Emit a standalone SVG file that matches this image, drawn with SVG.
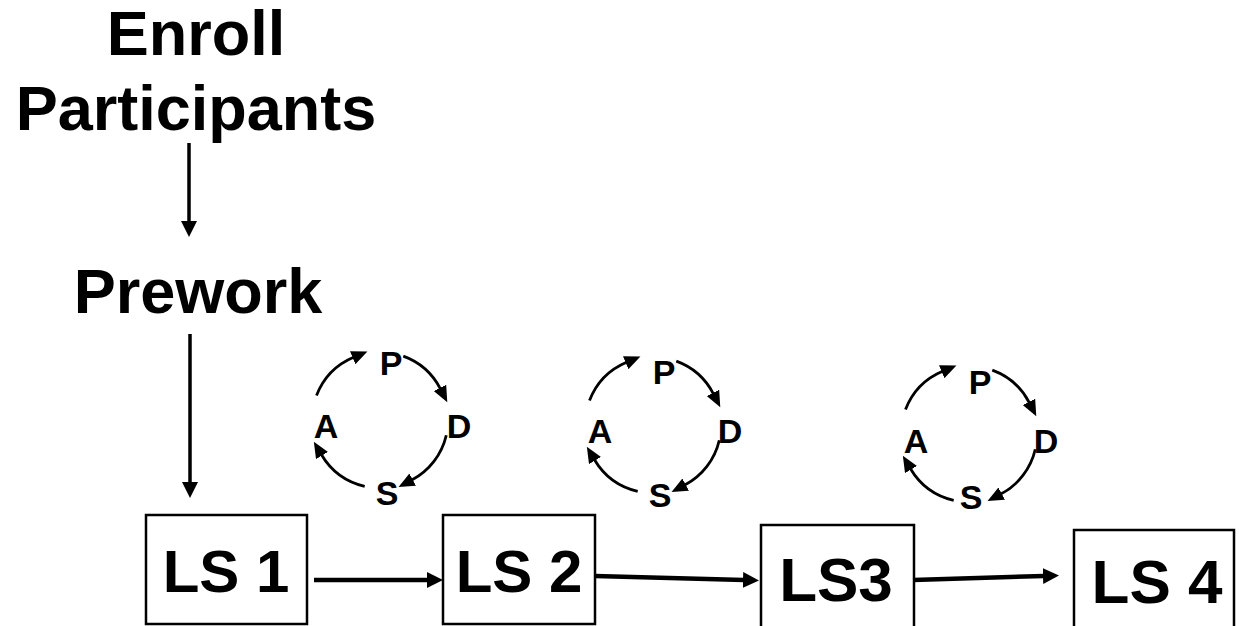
<svg xmlns="http://www.w3.org/2000/svg" width="1239" height="626" viewBox="0 0 1239 626">
<style>
.t{font-family:"Liberation Sans",Arial,sans-serif;font-weight:bold;fill:#000;text-anchor:middle}
.big{font-size:63px}
.ls{font-size:60px}
.ls2{font-size:62px}
.c{font-size:34px}
.box{fill:#fff;stroke:#000;stroke-width:2.5}
.arr{fill:none;stroke:#000;stroke-width:4.5;marker-end:url(#ah)}
.varr{fill:none;stroke:#000;stroke-width:3.5;marker-end:url(#ah)}
.arc{fill:none;stroke:#000;stroke-width:2.8;marker-end:url(#sh)}
</style>
<defs>
<marker id="ah" markerUnits="userSpaceOnUse" markerWidth="17" markerHeight="17" refX="1" refY="8" orient="auto"><path d="M0,0 L16,8 L0,16 z" fill="#000"/></marker>
<marker id="sh" markerUnits="userSpaceOnUse" markerWidth="17" markerHeight="15" refX="1" refY="7" orient="auto"><path d="M0,0 L16,7 L0,14 z" fill="#000"/></marker>
</defs>
<rect width="1239" height="626" fill="#fff"/>
<g id="enroll"><text class="t big" x="196" y="55">Enroll</text><text class="t big" x="196" y="130">Participants</text></g>
<g id="prework"><text class="t big" x="198" y="313">Prework</text></g>
<g id="ls1"><rect class="box" x="146" y="515" width="161" height="109"/><text class="t ls" x="226" y="592">LS 1</text></g>
<g id="ls2"><rect class="box" x="443" y="515" width="152" height="109"/><text class="t ls" x="519" y="592">LS 2</text></g>
<g id="ls3"><rect class="box" x="761" y="525" width="153" height="110"/><text class="t ls2" x="836" y="601">LS3</text></g>
<g id="ls4"><rect class="box" x="1074" y="530" width="160" height="105"/><text class="t ls2" x="1157" y="603">LS 4</text></g>
<g id="pdsa1"><text class="t c" x="391" y="375">P</text><text class="t c" x="459" y="438">D</text><text class="t c" x="326" y="438">A</text><text class="t c" x="387" y="505">S</text></g>
<g id="pdsa2"><text class="t c" x="664" y="384">P</text><text class="t c" x="730" y="443">D</text><text class="t c" x="600" y="443">A</text><text class="t c" x="660" y="507">S</text></g>
<g id="pdsa3"><text class="t c" x="980" y="394">P</text><text class="t c" x="1046" y="453">D</text><text class="t c" x="916" y="453">A</text><text class="t c" x="971" y="509">S</text></g>
<g id="connectors">
<path class="varr" d="M189,143 L189,222"/>
<path class="varr" d="M190,334 L190,483"/>
<path class="arr" d="M314,580 L428,580"/>
<path class="arr" d="M595,576 L744,580"/>
<path class="arr" d="M913,580 L1044,576"/>
<g transform="translate(380,420)">
<path class="arc" d="M-63.5,-24.4 A68,68 0 0 1 -26.4,-62.7"/>
<path class="arc" d="M23.3,-63.9 A68,68 0 0 1 60.4,-31.2"/>
<path class="arc" d="M66.3,15.3 A68,68 0 0 1 31.8,60.1"/>
<path class="arc" d="M-15.3,66.3 A68,68 0 0 1 -58.5,34.7"/>
</g>
<g transform="translate(653,425)">
<path class="arc" d="M-63.5,-24.4 A68,68 0 0 1 -26.4,-62.7"/>
<path class="arc" d="M23.3,-63.9 A68,68 0 0 1 60.4,-31.2"/>
<path class="arc" d="M66.3,15.3 A68,68 0 0 1 31.8,60.1"/>
<path class="arc" d="M-15.3,66.3 A68,68 0 0 1 -58.5,34.7"/>
</g>
<g transform="translate(969,434)">
<path class="arc" d="M-63.5,-24.4 A68,68 0 0 1 -26.4,-62.7"/>
<path class="arc" d="M23.3,-63.9 A68,68 0 0 1 60.4,-31.2"/>
<path class="arc" d="M66.3,15.3 A68,68 0 0 1 31.8,60.1"/>
<path class="arc" d="M-15.3,66.3 A68,68 0 0 1 -58.5,34.7"/>
</g>
</g>
</svg>
